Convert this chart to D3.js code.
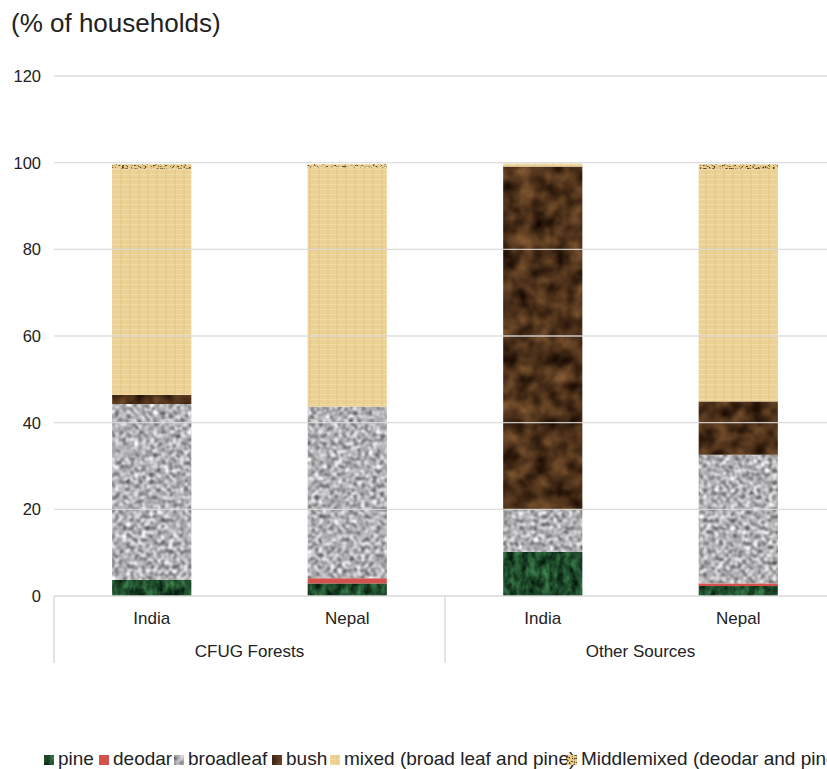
<!DOCTYPE html>
<html>
<head>
<meta charset="utf-8">
<script src="https://cdn.jsdelivr.net/npm/d3@7"></script>
<style>
  html, body { margin: 0; padding: 0; background: #fff; }
  svg { display: block; font-family: "Liberation Sans", Arial, Helvetica, sans-serif; }
</style>
</head>
<body>
<script>
// Fuel-wood source composition, % of households
const countries = ["India", "Nepal", "India", "Nepal"];
const sources = ["CFUG Forests", "CFUG Forests", "Other Sources", "Other Sources"];
const sourceGroups = ["CFUG Forests", "Other Sources"];

const pine        = [3.7, 2.9, 10.2, 2.3];
const deodar      = [0.0, 1.2, 0.0, 0.6];
const broadleaf   = [40.6, 39.6, 9.8, 29.7];
const bush        = [2.1, 0.0, 79.1, 12.3];
const mixed       = [52.2, 55.2, 0.7, 53.6];
const middlemixed = [1.0, 0.7, 0.0, 1.1];

const seriesKeys = ["pine", "deodar", "broadleaf", "bush", "mixed", "middlemixed"];
const seriesLabels = ["pine", "deodar", "broadleaf", "bush", "mixed (broad leaf and pine)", "Middlemixed (deodar and pine)"];
const yTicks = [0, 20, 40, 60, 80, 100, 120];

const W = 827, H = 769;
const margin = { left: 54, top: 76, bottom: 596 };

const rows = countries.map((c, i) => ({
  idx: i, country: c, source: sources[i],
  pine: pine[i], deodar: deodar[i], broadleaf: broadleaf[i],
  bush: bush[i], mixed: mixed[i], middlemixed: middlemixed[i]
}));

const svg = d3.select("body").append("svg")
  .attr("width", W).attr("height", H);

// ---- textures -----------------------------------------------------------
const defs = svg.append("defs");

function noiseFilter(id, freq, octaves, seed, matrix, blur) {
  const f = defs.append("filter").attr("id", id)
    .attr("filterUnits", "userSpaceOnUse")
    .attr("x", 0).attr("y", 0).attr("width", W).attr("height", H)
    .attr("color-interpolation-filters", "sRGB");
  f.append("feTurbulence").attr("type", "fractalNoise")
    .attr("baseFrequency", freq).attr("numOctaves", octaves)
    .attr("seed", seed).attr("result", "n0");
  f.append("feGaussianBlur").attr("in", "n0").attr("stdDeviation", blur || 0).attr("result", "n");
  f.append("feColorMatrix").attr("in", "n").attr("type", "matrix")
    .attr("values", matrix).attr("result", "c");
  f.append("feComposite").attr("in", "c").attr("in2", "SourceGraphic")
    .attr("operator", "in");
}

noiseFilter("tex-pine", "0.14 0.09", 3, 4,
  "0.36 0 0 0 -0.06  0.65 0 0 0 -0.03  0.40 0 0 0 -0.03  0 0 0 0 1", 0.5);
noiseFilter("tex-broadleaf", "0.26", 2, 7,
  "1.45 0 0 0 -0.03  1.45 0 0 0 -0.03  1.45 0 0 0 -0.02  0 0 0 0 1", 0.85);
noiseFilter("tex-bush", "0.06", 4, 11,
  "0.62 0 0 0 -0.01  0.46 0 0 0 -0.04  0.28 0 0 0 -0.04  0 0 0 0 1", 0.8);

// mixed: pale tan with a faint woven grid
const pm = defs.append("pattern").attr("id", "pat-mixed")
  .attr("patternUnits", "userSpaceOnUse").attr("width", 9).attr("height", 5);
pm.append("rect").attr("width", 9).attr("height", 5).attr("fill", "#ebd193");
pm.append("rect").attr("y", 4).attr("width", 9).attr("height", 1).attr("fill", "#f1dca8");
pm.append("rect").attr("x", 3).attr("width", 2).attr("height", 5).attr("fill", "#e6cb8a").attr("opacity", 0.7);

// middle-mixed: tan with dark flecks
const fm = defs.append("filter").attr("id", "tex-middle")
  .attr("filterUnits", "userSpaceOnUse")
  .attr("x", 0).attr("y", 0).attr("width", W).attr("height", H)
  .attr("color-interpolation-filters", "sRGB");
fm.append("feTurbulence").attr("type", "fractalNoise")
  .attr("baseFrequency", "0.45 0.6").attr("numOctaves", 2).attr("seed", 3).attr("result", "n");
fm.append("feColorMatrix").attr("in", "n").attr("type", "matrix")
  .attr("values", "0 0 0 0 0.33  0 0 0 0 0.24  0 0 0 0 0.08  6 0 0 0 -3.2")
  .attr("result", "specks");
fm.append("feFlood").attr("flood-color", "#e8cd8c").attr("result", "base");
fm.append("feMerge").attr("result", "m")
  .call(s => { s.append("feMergeNode").attr("in", "base"); s.append("feMergeNode").attr("in", "specks"); });
fm.append("feComposite").attr("in", "m").attr("in2", "SourceGraphic").attr("operator", "in");

const fills = {
  pine:        { fill: "#1f5a30", filter: "url(#tex-pine)" },
  deodar:      { fill: "#d4524c", filter: null },
  broadleaf:   { fill: "#b5b5b5", filter: "url(#tex-broadleaf)" },
  bush:        { fill: "#55341a", filter: "url(#tex-bush)" },
  mixed:       { fill: "url(#pat-mixed)", filter: null },
  middlemixed: { fill: "#e8cd8c", filter: "url(#tex-middle)" }
};

// ---- scales ---------------------------------------------------------------
const step = 195.5;
const x = d3.scaleBand()
  .domain(rows.map(d => d.idx))
  .range([margin.left, margin.left + step * rows.length])
  .paddingInner(0.595).paddingOuter(0.2975);

const y = d3.scaleLinear().domain([0, 120]).range([margin.bottom, margin.top]);

// ---- title ------------------------------------------------------------------
svg.append("text").attr("x", 11).attr("y", 32)
  .attr("font-size", 26).attr("fill", "#222")
  .text("(% of households)");

// ---- bars -------------------------------------------------------------------
const stacked = d3.stack().keys(seriesKeys)(rows);

const layers = svg.append("g").selectAll("g").data(stacked).join("g");
layers.each(function(layer) {
  const st = fills[layer.key];
  d3.select(this).selectAll("rect")
    .data(layer.filter(d => d[1] - d[0] > 0))
    .join("rect")
    .attr("x", d => x(d.data.idx))
    .attr("width", x.bandwidth())
    .attr("y", d => y(d[1]))
    .attr("height", d => y(d[0]) - y(d[1]))
    .attr("fill", st.fill)
    .attr("filter", st.filter);
});

// ---- gridlines & y labels ---------------------------------------------------
const grid = svg.append("g");
grid.selectAll("line").data(yTicks).join("line")
  .attr("x1", margin.left).attr("x2", W)
  .attr("y1", d => y(d)).attr("y2", d => y(d))
  .attr("stroke", "#d9d9d9").attr("stroke-width", 1.4)
  .attr("stroke-opacity", d => d === 0 ? 1 : 0.9);

svg.append("g").selectAll("text").data(yTicks).join("text")
  .attr("x", 41).attr("y", d => y(d)).attr("dy", "0.36em")
  .attr("text-anchor", "end").attr("font-size", 16.5).attr("fill", "#222")
  .text(d => d);

// ---- category axis (country within source) ----------------------------------
svg.append("g").selectAll("text").data(rows).join("text")
  .attr("x", d => x(d.idx) + x.bandwidth() / 2).attr("y", 624)
  .attr("text-anchor", "middle").attr("font-size", 17).attr("fill", "#222")
  .text(d => d.country);

const groupSpan = sourceGroups.map(g => {
  const idxs = rows.filter(r => r.source === g).map(r => r.idx);
  return { name: g, x0: margin.left + step * d3.min(idxs), x1: margin.left + step * (d3.max(idxs) + 1) };
});

svg.append("g").selectAll("text").data(groupSpan).join("text")
  .attr("x", d => (d.x0 + d.x1) / 2).attr("y", 657)
  .attr("text-anchor", "middle").attr("font-size", 17).attr("fill", "#222")
  .text(d => d.name);

const seps = [groupSpan[0].x0, ...groupSpan.map(g => g.x1)];
svg.append("g").selectAll("line").data(seps).join("line")
  .attr("x1", d => d).attr("x2", d => d)
  .attr("y1", y(0)).attr("y2", 663)
  .attr("stroke", "#d9d9d9").attr("stroke-width", 1.4);

// ---- legend -----------------------------------------------------------------
const legendSlots = [44, 99, 174, 272, 330, 567];
const lg = svg.append("g");
seriesKeys.forEach((k, i) => {
  const st = fills[k];
  lg.append("rect").attr("x", legendSlots[i]).attr("y", 755)
    .attr("width", 10).attr("height", 10)
    .attr("fill", st.fill).attr("filter", st.filter);
  lg.append("text").attr("x", legendSlots[i] + 14).attr("y", 765)
    .attr("font-size", 19).attr("fill", "#222")
    .text(seriesLabels[i]);
});
</script>
</body>
</html>
